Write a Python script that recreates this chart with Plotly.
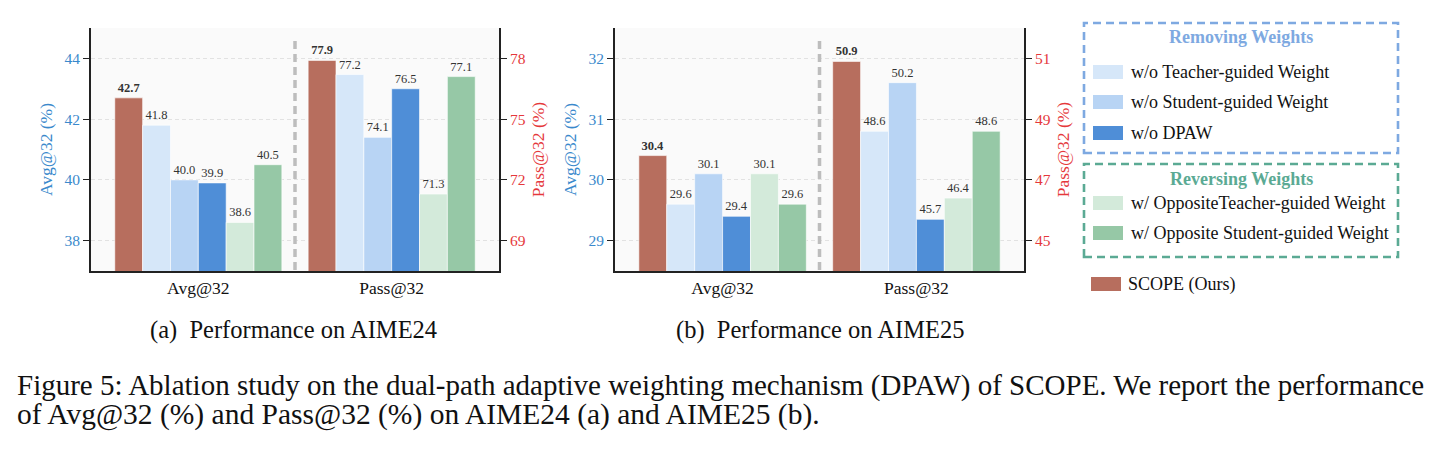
import plotly.graph_objects as go

# ---------------- data ----------------
methods = ["SCOPE (Ours)", "w/o Teacher-guided Weight", "w/o Student-guided Weight",
           "w/o DPAW", "w/ OppositeTeacher-guided Weight", "w/ Opposite Student-guided Weight"]
colors = ["#B76E5E", "#D6E7F9", "#B8D4F4", "#4F8ED7", "#D3EADA", "#96C8A6"]
metrics = ["Avg@32", "Pass@32"]

aime24_avg = [42.7, 41.8, 40.0, 39.9, 38.6, 40.5]
aime24_pass = [77.9, 77.2, 74.1, 76.5, 71.3, 77.1]
aime25_avg = [30.4, 29.6, 30.1, 29.4, 30.1, 29.6]
aime25_pass = [50.9, 48.6, 50.2, 45.7, 46.4, 48.6]

subcaptions = ["(a)  Performance on AIME24", "(b)  Performance on AIME25"]
caption_lines = ["Figure 5: Ablation study on the dual-path adaptive weighting mechanism (DPAW) of SCOPE. We report the performance",
                 "of Avg@32 (%) and Pass@32 (%) on AIME24 (a) and AIME25 (b)."]

W, H = 1434, 449
def X(px):
    return px / W
def Y(py):
    return 1 - py / H

SERIF = "Liberation Serif, Times New Roman, serif"
BLUE = "#3A89CC"
RED = "#E5383B"
AX = "#222222"

fig = go.Figure()

bar_w = 0.144
n = len(methods)

def add_panel(avg_vals, pass_vals, xa, ya_left, ya_right):
    for i in range(n):
        off = -n * bar_w / 2 + i * bar_w
        for vals, xpos, yax in ((avg_vals, 0, ya_left), (pass_vals, 1, ya_right)):
            v = vals[i]
            txt = f"<b>{v:.1f}</b>" if i == 0 else f"{v:.1f}"
            fig.add_trace(go.Bar(
                x=[xpos], y=[v], xaxis=xa, yaxis=yax,
                width=bar_w, offset=off,
                marker=dict(color=colors[i], line=dict(color="white", width=0.6)),
                text=[txt], textposition="outside", constraintext="none", cliponaxis=False,
                textfont=dict(family=SERIF, size=12.5, color="#333333"),
                showlegend=False, hoverinfo="skip"))

add_panel(aime24_avg, aime24_pass, "x", "y", "y2")
add_panel(aime25_avg, aime25_pass, "x2", "y3", "y4")

ydom = [Y(271), Y(28)]

def xaxis(dom, anchor):
    return dict(domain=dom, anchor=anchor, range=[-0.555, 1.555], tickvals=[0, 1], ticktext=metrics,
                showline=True, linecolor=AX, linewidth=1.8, mirror=False, ticks="",
                showgrid=False, zeroline=False,
                tickfont=dict(family=SERIF, size=17.5, color="#111111"))

def yaxis_left(rng, tv, anchor):
    return dict(domain=ydom, anchor=anchor, range=rng, tickvals=tv, side="left",
                showline=True, linecolor=AX, linewidth=1.8, ticks="outside", ticklen=6,
                tickwidth=1.3, tickcolor=AX, showgrid=True, gridcolor="#e2e2e2", gridwidth=1,
                griddash="4px,3px", zeroline=False,
                tickfont=dict(family=SERIF, size=15.5, color=BLUE),
                title=dict(text="Avg@32 (%)", font=dict(family=SERIF, size=17.5, color=BLUE), standoff=7))

def yaxis_right(rng, tv, anchor, over):
    return dict(anchor=anchor, overlaying=over, range=rng, tickvals=tv, side="right",
                showline=True, linecolor=AX, linewidth=1.8, ticks="outside", ticklen=6,
                tickwidth=1.3, tickcolor=AX, showgrid=False, zeroline=False,
                tickfont=dict(family=SERIF, size=15.5, color=RED),
                title=dict(text="Pass@32 (%)", font=dict(family=SERIF, size=17.5, color=RED), standoff=7))

shapes = []
annotations = []

# dashed separators between metric groups
for xr in ("x", "x2"):
    shapes.append(dict(type="line", xref=xr, yref="paper", x0=0.5, x1=0.5, y0=Y(270), y1=Y(40),
                       line=dict(color="#bdbdbd", width=3.5, dash="8px,5px"), layer="above"))

# sub captions
for txt, cx in zip(subcaptions, [293, 820]):
    annotations.append(dict(text=txt, x=X(cx), y=Y(330), xref="paper", yref="paper",
                            xanchor="center", yanchor="middle", showarrow=False,
                            font=dict(family=SERIF, size=24.5, color="#111111")))

# figure caption
for txt, cy, fs in zip(caption_lines, [385, 414], [29, 29.5]):
    annotations.append(dict(text=txt, x=X(15), y=Y(cy), xref="paper", yref="paper",
                            xanchor="left", yanchor="middle", showarrow=False,
                            font=dict(family=SERIF, size=fs, color="#111111")))

# custom legend
legend_groups = [
    dict(title="Removing Weights", color="#7EA9E1", box=(1084, 23, 1398, 153), title_y=37,
         items=[(1, 72), (2, 102), (3, 133)]),
    dict(title="Reversing Weights", color="#5BAA94", box=(1084, 164, 1398, 257), title_y=179,
         items=[(4, 203), (5, 233)]),
]
for g in legend_groups:
    x0, y0, x1, y1 = g["box"]
    shapes.append(dict(type="rect", xref="paper", yref="paper", x0=X(x0), x1=X(x1), y0=Y(y1), y1=Y(y0),
                       line=dict(color=g["color"], width=2.6, dash="8px,5px"), fillcolor="rgba(0,0,0,0)"))
    annotations.append(dict(text=f"<b>{g['title']}</b>", x=X((x0 + x1) / 2), y=Y(g["title_y"]),
                            xref="paper", yref="paper", xanchor="center", yanchor="middle",
                            showarrow=False, font=dict(family=SERIF, size=18, color=g["color"])))
    for idx, cy in g["items"]:
        shapes.append(dict(type="rect", xref="paper", yref="paper", x0=X(1093), x1=X(1123),
                           y0=Y(cy + 7), y1=Y(cy - 7), line=dict(width=0), fillcolor=colors[idx]))
        annotations.append(dict(text=methods[idx], x=X(1129), y=Y(cy), xref="paper", yref="paper",
                                xanchor="left", yanchor="middle", showarrow=False,
                                font=dict(family=SERIF, size=18, color="#111111")))
# SCOPE entry
shapes.append(dict(type="rect", xref="paper", yref="paper", x0=X(1091), x1=X(1121),
                   y0=Y(284 + 7), y1=Y(284 - 7), line=dict(width=0), fillcolor=colors[0]))
annotations.append(dict(text=methods[0], x=X(1126), y=Y(284), xref="paper", yref="paper",
                        xanchor="left", yanchor="middle", showarrow=False,
                        font=dict(family=SERIF, size=18, color="#111111")))

fig.update_layout(
    template="none",
    width=W, height=H, autosize=False,
    margin=dict(l=0, r=0, t=0, b=0),
    paper_bgcolor="white", plot_bgcolor="#fafafa",
    barmode="overlay", showlegend=False,
    xaxis=xaxis([X(91), X(499)], "y"),
    yaxis=yaxis_left([37, 45], [38, 40, 42, 44], "x"),
    yaxis2=yaxis_right([67.5, 79.5], [69, 72, 75, 78], "x", "y"),
    xaxis2=xaxis([X(615), X(1024)], "y3"),
    yaxis3=yaxis_left([28.5, 32.5], [29, 30, 31, 32], "x2"),
    yaxis4=yaxis_right([44, 52], [45, 47, 49, 51], "x2", "y3"),
    shapes=shapes, annotations=annotations,
)

fig.write_html("out.html")
